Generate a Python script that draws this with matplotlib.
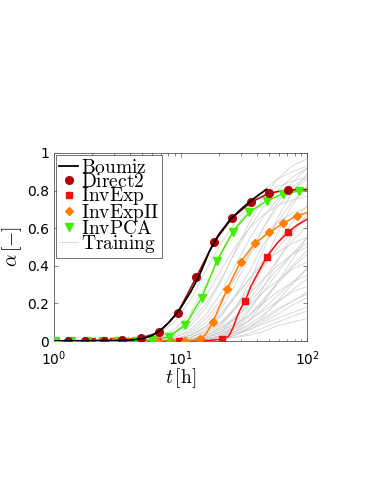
import matplotlib
matplotlib.use("Agg")
import matplotlib.pyplot as plt
from matplotlib.font_manager import FontProperties
from matplotlib.lines import Line2D
from matplotlib.ticker import FixedLocator, LogLocator, NullFormatter

# --- Datos -----------------------------------------------------------------

# Boumiz (linea negra)
t_boumiz = [1, 2, 3, 4, 5, 6, 7, 8, 9, 10, 12, 14, 17, 20, 25, 30, 36, 42, 48]
a_boumiz = [0, 0.001, 0.002, 0.005, 0.012, 0.03, 0.06, 0.095, 0.135, 0.175,
            0.26, 0.345, 0.48, 0.565, 0.65, 0.70, 0.745, 0.78, 0.807]

# Direct2 (circulos)
t_direct = [1.30, 1.77, 2.47, 3.47, 4.84, 6.80, 9.50, 13.3, 18.4, 25.7, 36.1, 50.4, 70.4]
a_direct = [0, 0, 0.002, 0.006, 0.016, 0.046, 0.15, 0.339, 0.525, 0.656, 0.738, 0.787, 0.803]
t_direct_line = [1.0] + t_direct + [100]
a_direct_line = [0] + a_direct + [0.806]

# InvExp (cuadrados)
t_exp = [1.33, 1.98, 2.94, 4.38, 6.51, 9.68, 14.4, 21.4, 32.4, 48.0, 70.4]
a_exp = [0, 0, 0, 0, 0, 0, 0, 0.009, 0.213, 0.448, 0.578]
t_exp_line = [1.0, 14.4, 21.4, 24, 26, 28, 30, 32.4, 36, 40, 48.0, 58, 70.4, 85, 100]
a_exp_line = [0, 0, 0.009, 0.025, 0.07, 0.13, 0.175, 0.213, 0.29, 0.35, 0.448,
              0.52, 0.578, 0.62, 0.647]

# InvExpII (rombos)
t_exp2 = [1.06, 1.37, 1.78, 2.30, 2.98, 3.86, 5.0, 6.47, 8.38, 10.86,
          14.3, 18.0, 23.4, 29.9, 38.8, 50.4, 65.0, 82.9]
a_exp2 = [0, 0, 0, 0, 0, 0, 0, 0, 0, 0,
          0.009, 0.10, 0.278, 0.422, 0.52, 0.578, 0.626, 0.666]
t_exp2_line = [1.0] + t_exp2[:11] + [16] + t_exp2[11:] + [100]
a_exp2_line = [0] + a_exp2[:11] + [0.04] + a_exp2[11:] + [0.683]

# InvPCA (triangulos)
t_pca = [1.01, 1.36, 1.83, 2.46, 3.31, 4.45, 6.0, 8.07, 10.9, 14.7,
         19.3, 25.9, 35.0, 48.0, 64.3, 86.9]
a_pca = [0, 0, 0, 0, 0, 0.002, 0.007, 0.022, 0.085, 0.23,
         0.424, 0.581, 0.685, 0.746, 0.782, 0.798]
t_pca_line = t_pca + [100]
a_pca_line = a_pca + [0.802]

# Curvas de entrenamiento (gris)
t_train = [1, 6, 9, 12, 16, 21, 27, 35, 45, 58, 76, 100]
a_train = [
    [0, 0.02, 0.10, 0.22, 0.38, 0.52, 0.63, 0.72, 0.78, 0.82, 0.85, 0.87],
    [0, 0.01, 0.06, 0.15, 0.30, 0.46, 0.60, 0.71, 0.80, 0.86, 0.90, 0.93],
    [0, 0.01, 0.04, 0.10, 0.20, 0.33, 0.47, 0.60, 0.71, 0.80, 0.87, 0.92],
    [0, 0.00, 0.03, 0.08, 0.18, 0.32, 0.48, 0.63, 0.76, 0.86, 0.93, 0.97],
    [0, 0.01, 0.05, 0.12, 0.24, 0.38, 0.50, 0.60, 0.67, 0.72, 0.75, 0.77],
    [0, 0.00, 0.02, 0.06, 0.14, 0.26, 0.40, 0.54, 0.66, 0.75, 0.82, 0.87],
    [0, 0.00, 0.01, 0.04, 0.10, 0.20, 0.33, 0.47, 0.60, 0.71, 0.80, 0.86],
    [0, 0.00, 0.01, 0.03, 0.08, 0.17, 0.30, 0.45, 0.60, 0.73, 0.84, 0.92],
    [0, 0.00, 0.02, 0.05, 0.12, 0.22, 0.34, 0.46, 0.56, 0.63, 0.68, 0.71],
    [0, 0.00, 0.00, 0.02, 0.06, 0.13, 0.24, 0.37, 0.51, 0.63, 0.74, 0.82],
    [0, 0.00, 0.01, 0.03, 0.07, 0.14, 0.23, 0.33, 0.43, 0.52, 0.60, 0.66],
    [0, 0.00, 0.00, 0.02, 0.05, 0.10, 0.18, 0.28, 0.39, 0.49, 0.58, 0.65],
    [0, 0.00, 0.00, 0.01, 0.04, 0.09, 0.17, 0.28, 0.40, 0.52, 0.63, 0.72],
    [0, 0.00, 0.01, 0.03, 0.08, 0.15, 0.24, 0.33, 0.41, 0.47, 0.52, 0.55],
    [0, 0.00, 0.00, 0.01, 0.03, 0.07, 0.13, 0.22, 0.32, 0.43, 0.53, 0.61],
    [0, 0.00, 0.00, 0.01, 0.03, 0.06, 0.12, 0.20, 0.29, 0.38, 0.46, 0.52],
    [0, 0.00, 0.01, 0.02, 0.05, 0.10, 0.17, 0.25, 0.33, 0.40, 0.46, 0.50],
    [0, 0.00, 0.00, 0.01, 0.02, 0.05, 0.10, 0.17, 0.26, 0.36, 0.46, 0.55],
    [0, 0.00, 0.00, 0.01, 0.03, 0.07, 0.12, 0.19, 0.26, 0.32, 0.38, 0.42],
    [0, 0.00, 0.00, 0.00, 0.02, 0.04, 0.08, 0.14, 0.22, 0.31, 0.40, 0.48],
    [0, 0.00, 0.00, 0.01, 0.02, 0.05, 0.09, 0.14, 0.20, 0.26, 0.31, 0.35],
    [0, 0.00, 0.00, 0.00, 0.01, 0.03, 0.06, 0.11, 0.17, 0.24, 0.31, 0.38],
    [0, 0.00, 0.00, 0.01, 0.02, 0.04, 0.07, 0.11, 0.16, 0.21, 0.26, 0.29],
    [0, 0.00, 0.00, 0.00, 0.01, 0.02, 0.05, 0.09, 0.14, 0.20, 0.27, 0.33],
    [0, 0.00, 0.00, 0.00, 0.01, 0.03, 0.05, 0.08, 0.12, 0.17, 0.21, 0.25],
    [0, 0.00, 0.00, 0.00, 0.01, 0.02, 0.04, 0.07, 0.11, 0.16, 0.21, 0.26],
    [0, 0.00, 0.00, 0.00, 0.00, 0.01, 0.03, 0.06, 0.10, 0.14, 0.19, 0.23],
    [0, 0.00, 0.00, 0.00, 0.01, 0.02, 0.04, 0.06, 0.09, 0.12, 0.15, 0.18],
    [0, 0.00, 0.00, 0.00, 0.00, 0.01, 0.02, 0.04, 0.07, 0.10, 0.13, 0.16],
    [0, 0.00, 0.00, 0.00, 0.00, 0.01, 0.02, 0.03, 0.05, 0.08, 0.10, 0.12],
    [0, 0.00, 0.00, 0.01, 0.03, 0.08, 0.17, 0.31, 0.48, 0.65, 0.79, 0.89],
    [0, 0.00, 0.00, 0.00, 0.02, 0.05, 0.12, 0.24, 0.40, 0.57, 0.72, 0.83],
    [0, 0.00, 0.00, 0.00, 0.01, 0.03, 0.08, 0.16, 0.28, 0.42, 0.56, 0.68],
    [0, 0.00, 0.00, 0.00, 0.01, 0.03, 0.07, 0.13, 0.21, 0.30, 0.39, 0.46],
    [0, 0.00, 0.00, 0.00, 0.00, 0.02, 0.05, 0.11, 0.20, 0.31, 0.43, 0.55],
    [0, 0.00, 0.00, 0.00, 0.00, 0.01, 0.03, 0.07, 0.13, 0.21, 0.30, 0.39],
]

y_ticks = [0, 0.2, 0.4, 0.6, 0.8, 1]
y_ticklabels = ["0", "0.2", "0.4", "0.6", "0.8", "1"]
x_ticks = [1, 10, 100]
x_ticklabels = [r"$10^0$", r"$10^1$", r"$10^2$"]

# --- Colores -----------------------------------------------------------------
c_direct = "#b00000"
c_exp = "#f01010"
c_exp2 = "#ff8000"
c_pca = "#40f000"
c_train = "#cccccc"

fig = plt.figure(figsize=(3.82, 4.94), dpi=100)
ax = fig.add_axes([0.1414, 0.3097, 0.6623, 0.3806])

for row in a_train:
    ax.plot(t_train, row, color=c_train, lw=0.5, zorder=1)

ax.plot(t_exp_line, a_exp_line, color=c_exp, lw=1.1, zorder=3)
ax.plot(t_exp, a_exp, ls="none", marker="s", ms=4.5, color=c_exp, zorder=4)
ax.plot(t_exp2_line, a_exp2_line, color=c_exp2, lw=1.1, zorder=3)
ax.plot(t_exp2, a_exp2, ls="none", marker="D", ms=4.5, color=c_exp2, zorder=4)
ax.plot(t_pca_line, a_pca_line, color=c_pca, lw=1.1, zorder=3)
ax.plot(t_pca, a_pca, ls="none", marker="v", ms=6, color=c_pca, zorder=4)
ax.plot(t_direct_line, a_direct_line, color=c_direct, lw=1.1, zorder=3)
ax.plot(t_direct, a_direct, ls="none", marker="o", ms=5.5, color=c_direct, zorder=4)
ax.plot(t_boumiz, a_boumiz, color="black", lw=1.3, zorder=5)

ax.set_xscale("log")
ax.set_xlim(1, 100)
ax.set_ylim(0, 1)
ax.xaxis.set_major_locator(FixedLocator(x_ticks))
ax.set_xticklabels(x_ticklabels)
ax.xaxis.set_minor_locator(LogLocator(base=10, subs=range(2, 10)))
ax.xaxis.set_minor_formatter(NullFormatter())
ax.set_yticks(y_ticks)
ax.set_yticklabels(y_ticklabels)
ax.tick_params(which="both", direction="in", top=True, right=True,
               labelsize=10, color="#555555", width=0.5)
ax.tick_params(which="major", length=3)
ax.tick_params(which="minor", length=1.8)
ax.tick_params(axis="x", pad=6)
for s in ax.spines.values():
    s.set_color("#555555")
    s.set_linewidth(0.6)

ax.set_xlabel(r"$t\,[\mathrm{h}]$", fontsize=14, math_fontfamily="cm", labelpad=-1)
ax.set_ylabel(r"$\alpha\,[\mathrm{-}]$", fontsize=14, math_fontfamily="cm", labelpad=2)

# Leyenda (handles proxy)
handles = [
    Line2D([], [], color="black", lw=1.3),
    Line2D([], [], ls="none", marker="o", ms=5.5, color=c_direct),
    Line2D([], [], ls="none", marker="s", ms=4.5, color=c_exp),
    Line2D([], [], ls="none", marker="D", ms=4.5, color=c_exp2),
    Line2D([], [], ls="none", marker="v", ms=6, color=c_pca),
    Line2D([], [], color=c_train, lw=0.5),
]
labels = [r"$\mathrm{Boumiz}$", r"$\mathrm{Direct2}$", r"$\mathrm{InvExp}$",
          r"$\mathrm{InvExpII}$", r"$\mathrm{InvPCA}$", r"$\mathrm{Training}$"]
prop = FontProperties(size=14, math_fontfamily="cm")
leg = ax.legend(handles, labels, loc="upper left", prop=prop, frameon=True,
                fancybox=False, borderaxespad=0.1, handlelength=1.0,
                handletextpad=0.15, labelspacing=-0.27, borderpad=0.15)
leg.get_frame().set_edgecolor("#333333")
leg.get_frame().set_linewidth(0.6)

fig.savefig("out.png", dpi=100)
